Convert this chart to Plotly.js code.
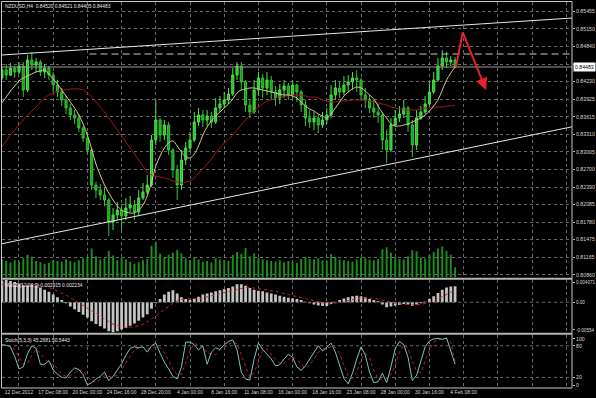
<!DOCTYPE html>
<html><head><meta charset="utf-8">
<script src="https://cdn.plot.ly/plotly-3.0.1.min.js"></script>
<style>html,body{margin:0;padding:0;background:#000;}#chart{width:596px;height:398px;}</style>
</head><body><div id="chart"></div>
<script>
// ---- H4 bars (every other bar shown), bar index of first candle = -8, step 2 ----
const firstBarIndex = -8;
const barStep = 2;
const openP = [.84291,.84431,.84344,.84465,.84396,.84500,.84082,.84605,.84518,.84570,
.84396,.84465,.84344,.84169,.84047,.83908,.83769,.83647,.83594,.83420,
.83246,.83037,.82427,.82340,.82253,.82166,.81783,.81905,.81992,.81887,
.82027,.82079,.81957,.82201,.82305,.82427,.83211,.83560,.83298,.83473,
.83037,.82689,.82427,.82863,.83072,.83211,.83525,.83647,.83560,.83629,
.83525,.83769,.83838,.83908,.84013,.84344,.84500,.84222,.83821,.83699,
.84082,.84291,.84117,.84256,.84047,.83943,.84082,.84152,.83995,.84169,
.84047,.83821,.83594,.83525,.83594,.83473,.83560,.83647,.83995,.84117,
.84047,.84169,.84222,.84291,.84256,.83995,.83908,.83769,.83699,.83647,
.83211,.83037,.83473,.83594,.83664,.83769,.83473,.83124,.83594,.83699,
.83838,.84047,.84256,.84500,.84640,.84570,.84605];
const highP = [.84500,.84535,.84553,.84500,.84570,.84570,.84692,.84744,.84640,.84605,
.84535,.84500,.84396,.84256,.84117,.83978,.83838,.83734,.83664,.83455,
.83351,.83072,.82480,.82445,.82375,.82201,.82027,.82131,.82096,.82201,
.82236,.82166,.82340,.82462,.82601,.83298,.83908,.83594,.83560,.83525,
.83072,.82776,.83037,.83176,.83351,.83699,.83769,.83734,.83734,.83699,
.83943,.83978,.84047,.84117,.84465,.84570,.84570,.84256,.83908,.84256,
.84396,.84361,.84396,.84326,.84152,.84187,.84256,.84204,.84256,.84187,
.84082,.83908,.83734,.83699,.83664,.83699,.83769,.84169,.84256,.84222,
.84326,.84344,.84396,.84431,.84291,.84117,.83995,.83908,.83838,.83699,
.83385,.83594,.83734,.83804,.83908,.83804,.83560,.83734,.83804,.83978,
.84222,.84396,.84640,.84779,.84744,.84674,.84657];
const lowP = [.84256,.84256,.84326,.84291,.84361,.83960,.84047,.84431,.84396,.84326,
.84291,.84256,.84047,.83960,.83804,.83664,.83560,.83490,.83351,.83176,
.82967,.82340,.82201,.82166,.82061,.81539,.81643,.81818,.81643,.81818,
.81957,.81818,.81905,.82166,.82253,.82392,.83124,.83176,.83211,.82950,
.82549,.82166,.82340,.82776,.83002,.83176,.83455,.83438,.83455,.83420,
.83490,.83699,.83769,.83838,.83978,.84256,.84082,.83699,.83594,.83664,
.83978,.83943,.83995,.83908,.83804,.83838,.83943,.83908,.83943,.83873,
.83699,.83455,.83420,.83385,.83333,.83420,.83490,.83594,.83908,.83943,
.83995,.84047,.84082,.84047,.83908,.83769,.83682,.83594,.83507,.83037,
.82811,.83002,.83438,.83525,.83594,.83351,.82915,.83037,.83560,.83664,
.83804,.84013,.84222,.84431,.84465,.84500,.84465];
const closeP = [.84431,.84344,.84465,.84396,.84500,.84082,.84605,.84518,.84570,.84396,
.84465,.84344,.84169,.84047,.83908,.83769,.83647,.83594,.83420,.83246,
.83037,.82427,.82340,.82253,.82166,.81783,.81905,.81992,.81887,.82027,
.82079,.81957,.82201,.82305,.82427,.83211,.83560,.83298,.83473,.83037,
.82689,.82427,.82863,.83072,.83211,.83525,.83647,.83560,.83629,.83525,
.83769,.83838,.83908,.84013,.84344,.84500,.84222,.83821,.83699,.84082,
.84291,.84117,.84256,.84047,.83943,.84082,.84152,.83995,.84169,.84047,
.83821,.83594,.83525,.83594,.83473,.83560,.83647,.83995,.84117,.84047,
.84169,.84222,.84291,.84256,.83995,.83908,.83769,.83699,.83647,.83211,
.83037,.83473,.83594,.83664,.83769,.83473,.83124,.83594,.83699,.83838,
.84047,.84256,.84500,.84640,.84570,.84605,.84483];
const maFast = [.83856,.83960,.84065,.84152,.84239,.84291,.84326,.84361,.84396,.84413,
.84431,.84361,.84274,.84187,.84082,.83978,.83873,.83769,.83647,.83490,
.83298,.83054,.82793,.82601,.82427,.82288,.82166,.82061,.81992,.81957,
.81940,.81940,.81992,.82079,.82236,.82480,.82758,.82932,.83072,.83159,
.83194,.83107,.83002,.82915,.82898,.82967,.83107,.83298,.83438,.83542,
.83629,.83699,.83769,.83838,.83925,.84030,.84082,.84100,.84117,.84117,
.84100,.84082,.84065,.84047,.84030,.84013,.83995,.83995,.83978,.83943,
.83873,.83804,.83751,.83716,.83664,.83629,.83594,.83664,.83769,.83873,
.83978,.84047,.84100,.84134,.84117,.84065,.83995,.83925,.83804,.83682,
.83594,.83490,.83455,.83455,.83473,.83490,.83525,.83560,.83594,.83647,
.83716,.83804,.83908,.84082,.84256,.84378,.84483];
const maSlow = [.83089,.83194,.83298,.83385,.83473,.83560,.83647,.83716,.83786,.83873,
.83943,.83995,.84030,.84065,.84082,.84082,.84100,.84100,.84100,.84082,
.84030,.83960,.83873,.83786,.83699,.83594,.83490,.83385,.83281,.83176,
.83072,.82967,.82863,.82758,.82654,.82601,.82584,.82567,.82549,.82532,
.82497,.82480,.82462,.82480,.82497,.82549,.82636,.82706,.82793,.82880,
.82985,.83072,.83159,.83229,.83298,.83385,.83473,.83560,.83647,.83716,
.83786,.83838,.83891,.83908,.83943,.83960,.83978,.83978,.83995,.83995,
.83995,.83978,.83960,.83960,.83943,.83908,.83891,.83873,.83873,.83891,
.83891,.83891,.83908,.83908,.83908,.83908,.83891,.83873,.83856,.83838,
.83821,.83786,.83769,.83751,.83751,.83734,.83734,.83734,.83751,.83769,
.83769,.83786,.83786,.83786,.83804,.83804,.83821];
const volume = [2600,2400,2200,2500,2300,2800,3300,3000,2400,2200,
2000,2100,2500,2400,2300,2600,2400,2200,2500,2800,
3000,4200,3100,2600,2800,3900,3200,2500,2900,2600,
2300,2000,2200,2500,2700,4600,5200,3500,2900,3300,
3600,4000,3500,2800,2500,2900,2600,2300,2400,2200,
2800,2600,2500,2400,3300,3700,3400,4300,3100,3500,
2900,2600,2500,2400,2300,2500,2200,2400,2300,2100,
2700,3000,2700,2600,2800,2500,2400,3400,3000,2600,
2500,2400,2300,2600,2900,2800,2600,2500,2700,4100,
4400,3600,2900,2700,2600,3100,4000,3800,2900,2800,
3300,3700,4200,4500,3900,3300,1500];
const macdMain = [0.0040,0.00407,0.0039,0.0037,0.0034,0.0031,0.0031,0.0032,0.0030,0.0027,
0.0023,0.0019,0.0014,0.0009,0.0004,-0.0002,-0.0008,-0.0013,-0.0018,-0.0023,
-0.0028,-0.0035,-0.0040,-0.0044,-0.0048,-0.0053,-0.00554,-0.0053,-0.0050,-0.0047,
-0.0043,-0.0039,-0.0034,-0.0028,-0.0022,-0.0012,-0.0002,0.0006,0.0014,0.0019,
0.0022,0.0016,0.0009,0.0006,0.0004,0.0006,0.0010,0.0014,0.0016,0.0018,
0.0020,0.0022,0.0024,0.0026,0.0029,0.0033,0.0033,0.0030,0.0026,0.0023,
0.0021,0.0020,0.0018,0.0016,0.0014,0.0012,0.0010,0.0008,0.0007,0.0006,
0.0004,0.0001,-0.0002,-0.0004,-0.0006,-0.0007,-0.0007,-0.0003,0.0001,0.0004,
0.0007,0.0009,0.0011,0.0012,0.0011,0.0009,0.0006,0.0004,0.0002,-0.0004,
-0.0009,-0.0008,-0.0006,-0.0005,-0.0003,-0.0004,-0.0007,-0.0004,-0.0002,0.0001,
0.0006,0.0011,0.0017,0.0023,0.0027,0.0029,0.002915];
const macdSignal = [0.0033,0.0033,0.0033,0.0034,0.0034,0.0033,0.0033,0.0033,0.0032,0.0031,
0.0029,0.0027,0.0024,0.0021,0.0017,0.0013,0.0009,0.0004,-0.0001,-0.0006,
-0.0011,-0.0016,-0.0021,-0.0026,-0.0031,-0.0036,-0.0040,-0.0043,-0.0045,-0.0046,
-0.0046,-0.0045,-0.0043,-0.0040,-0.0036,-0.0031,-0.0025,-0.0019,-0.0013,-0.0007,
-0.0002,0.0002,0.0005,0.0006,0.0006,0.0006,0.0007,0.0008,0.0010,0.0012,
0.0014,0.0016,0.0018,0.0020,0.0022,0.0024,0.0026,0.0027,0.0027,0.0026,
0.0025,0.0024,0.0023,0.0022,0.0020,0.0018,0.0016,0.0014,0.0012,0.0010,
0.0008,0.0006,0.0004,0.0002,0.0000,-0.0002,-0.0003,-0.0003,-0.0002,-0.0001,
0.0001,0.0003,0.0005,0.0007,0.0008,0.0008,0.0008,0.0007,0.0006,0.0004,
0.0001,-0.0001,-0.0002,-0.0003,-0.0004,-0.0004,-0.0005,-0.0005,-0.0004,-0.0003,
-0.0001,0.0002,0.0006,0.0010,0.0014,0.0018,0.002234];
const stochMain = [82,81,78,60,36,40,65,80,75,45,
45,52,34,26,20,19,30,38,35,25,
6,10,17,22,30,14,22,35,46,62,
75,78,76,78,68,80,85,66,49,36,
22,17,40,87,87,82,72,80,45,68,
76,73,82,88,91,72,30,17,15,55,
85,73,64,55,42,44,55,64,58,40,
33,42,55,68,80,70,78,85,68,42,
18,8,28,55,78,62,30,10,12,28,
10,40,75,88,82,58,14,24,50,78,
89,93,94,92,95,70,45.27];
const stochSignal = [80,81,80,73,58,45,47,62,73,67,
55,47,44,37,27,22,23,29,34,33,
22,14,11,16,23,22,22,24,34,48,
61,72,76,77,74,75,78,77,67,50,
36,25,26,48,71,85,80,78,66,64,
63,72,77,81,87,84,64,40,21,29,
52,71,74,64,54,47,47,54,59,54,
44,38,43,55,68,73,76,78,77,65,
43,23,18,30,54,65,57,34,17,17,
17,26,42,68,82,76,51,32,29,51,
72,87,92,93,94,86,50.54];

// axis labels
const timeTickIndex = [0,16,32,48,64,80,96,112,128,144,160,176,192,208,224,240,256];
const timeTickText = ["12 Dec 2012","17 Dec 08:00","20 Dec 00:00","24 Dec 16:00","28 Dec 20:00","4 Jan 00:00","8 Jan 16:00","11 Jan 08:00","16 Jan 00:00","18 Jan 16:00","23 Jan 08:00","28 Jan 00:00","30 Jan 16:00","4 Feb 08:00","","",""];
const priceTicks = [0.85455,0.85150,0.84840,0.84535,0.84230,0.83925,0.83615,0.83310,0.83005,0.82700,0.82390,0.82085,0.81780,0.81475,0.81165,0.80860];
const priceTickText = ["0.85455","0.85150","0.84840","","0.84230","0.83925","0.83615","0.83310","0.83005","0.82700","0.82390","0.82085","0.81780","0.81475","0.81165","0.80860"];
const lastPrice = 0.84483;
const headerText = "NZDUSD,H4  0.84520 0.84521 0.84405 0.84483";
const macdText = "MACD(12,26,9) 0.002915 0.002234";
const stochText = "Stoch(5,3,3) 45.2681 50.5443";
const macdMax = 0.004071, macdMin = -0.00554;
const stochLevels = [80, 20];

// drawn objects (bar index, price)
const upperTrend = {x: [-7.95, 258.7], y: [0.84692, 0.85336]};
const lowerTrend = {x: [-7.95, 258.7], y: [0.81405, 0.83441]};
const resistLine = {x: [33, 258.7], y: [0.84709, 0.84709]};
const arrowUp = {x: [204.4, 207.6], y: [0.84483, 0.85087]};
const arrowDown = {x: [207.6, 218.5], y: [0.85087, 0.84082]};

const xIdx = closeP.map((_, k) => firstBarIndex + barStep * k);
const xRange = [-7.95, 258.7];

const FONT = "Liberation Sans, DejaVu Sans, sans-serif";
const TXT = '#d8d8d8';
const GRID = '#6a6a6a';
const FS = 5.2;

const traces = [
  {type:'bar', x:xIdx, y:volume, xaxis:'x3', yaxis:'y4', width:0.9, marker:{color:'#1c8e1c', line:{width:0}}, hoverinfo:'skip'},
  {type:'scatter', mode:'lines', x:xRange, y:[lastPrice,lastPrice], xaxis:'x3', yaxis:'y3', line:{color:'#9a9a9a', width:1}, hoverinfo:'skip'},
  {type:'candlestick', x:xIdx, open:openP, high:highP, low:lowP, close:closeP, xaxis:'x3', yaxis:'y3',
    increasing:{line:{color:'#4ce24c', width:1}, fillcolor:'#2fbf2f'},
    decreasing:{line:{color:'#33c433', width:1}, fillcolor:'#229a22'}, whiskerwidth:0, hoverinfo:'skip'},
  {type:'scatter', mode:'lines', x:xIdx, y:maSlow, xaxis:'x3', yaxis:'y3', line:{color:'#a01818', width:1, shape:'spline'}, hoverinfo:'skip'},
  {type:'scatter', mode:'lines', x:xIdx, y:maFast, xaxis:'x3', yaxis:'y3', line:{color:'#d6c48e', width:1, shape:'spline'}, hoverinfo:'skip'},
  {type:'scatter', mode:'lines', x:upperTrend.x, y:upperTrend.y, xaxis:'x3', yaxis:'y3', line:{color:'#e6e6e6', width:1}, hoverinfo:'skip'},
  {type:'scatter', mode:'lines', x:lowerTrend.x, y:lowerTrend.y, xaxis:'x3', yaxis:'y3', line:{color:'#e6e6e6', width:1}, hoverinfo:'skip'},
  {type:'scatter', mode:'lines', x:resistLine.x, y:resistLine.y, xaxis:'x3', yaxis:'y3', line:{color:'#c8c8c8', width:1, dash:'7px,4px'}, hoverinfo:'skip'},
  {type:'scatter', mode:'lines', x:arrowUp.x, y:arrowUp.y, xaxis:'x3', yaxis:'y3', line:{color:'#e8202a', width:2}, hoverinfo:'skip'},
  {type:'bar', x:xIdx, y:macdMain, xaxis:'x2', yaxis:'y2', width:1.3, marker:{color:'#c4c4c4', line:{width:0}}, hoverinfo:'skip'},
  {type:'scatter', mode:'lines', x:xIdx, y:macdSignal, xaxis:'x2', yaxis:'y2', line:{color:'#d02020', width:1, dash:'dot'}, hoverinfo:'skip'},
  {type:'scatter', mode:'lines', x:xIdx, y:stochSignal, xaxis:'x', yaxis:'y', line:{color:'#c81e1e', width:1, dash:'dot'}, hoverinfo:'skip'},
  {type:'scatter', mode:'lines', x:xIdx, y:stochMain, xaxis:'x', yaxis:'y', line:{color:'#7cc4bc', width:1}, hoverinfo:'skip'}
];

const xCommon = {range:xRange, tickvals:timeTickIndex, showgrid:true, gridcolor:GRID, griddash:'dot', gridwidth:1,
  zeroline:false, showline:false, ticks:'', fixedrange:true, rangeslider:{visible:false}};
const py = p => (388 - p) / 386;   // pixel row -> paper
const px = p => (p - 2) / 570;
const yTickCommon = {side:'right', showgrid:false, zeroline:false, showline:false, ticks:'outside', ticklen:2, tickcolor:'#bbb',
  tickfont:{size:FS, color:TXT, family:FONT}, fixedrange:true};

const layout = {
  width:596, height:398, margin:{l:2, r:24, t:2, b:10},
  paper_bgcolor:'#000', plot_bgcolor:'#000', showlegend:false, hovermode:false,
  font:{family:FONT, size:FS, color:TXT},
  xaxis: Object.assign({}, xCommon, {anchor:'y', ticktext:timeTickText, showticklabels:true, tickangle:0, automargin:false,
    tickfont:{size:5.0, color:TXT, family:FONT}}),
  xaxis2: Object.assign({}, xCommon, {anchor:'y2', matches:'x', showticklabels:false}),
  xaxis3: Object.assign({}, xCommon, {anchor:'y3', matches:'x', showticklabels:false}),
  yaxis: Object.assign({}, yTickCommon, {domain:[0, py(335.2)], range:[0,100], anchor:'x', tickvals:[93.3,80,20,5.3], ticktext:['100','80','20','0']}),
  yaxis2: Object.assign({}, yTickCommon, {domain:[py(332.5), py(280)], range:[macdMin, macdMax], anchor:'x2',
    tickvals:[0.00357, 0, -0.00508], ticktext:[String(macdMax), '0.00', String(macdMin)], tickfont:{size:4.6, color:TXT, family:FONT}}),
  yaxis3: Object.assign({}, yTickCommon, {domain:[py(277.5), 1], range:[0.80816, 0.85615], anchor:'x3', tickvals:priceTicks, ticktext:priceTickText,
    showgrid:true, gridcolor:GRID, griddash:'dot'}),
  yaxis4: {overlaying:'y3', anchor:'x3', range:[0, 40000], visible:false, fixedrange:true},
  shapes: [
    {type:'line', xref:'paper', yref:'y2', x0:0, x1:1, y0:0, y1:0, line:{color:GRID, width:1, dash:'dot'}},
    ...stochLevels.map(v => ({type:'line', xref:'paper', yref:'y', x0:0, x1:1, y0:v, y1:v, line:{color:GRID, width:1, dash:'dot'}})),
    {type:'rect', xref:'paper', yref:'paper', x0:px(1.5), x1:1, y0:0, y1:py(1.5), line:{color:'#c8c8c8', width:1}},
    {type:'line', xref:'paper', yref:'paper', x0:px(1.5), x1:1, y0:py(278.7), y1:py(278.7), line:{color:'#b4b4b4', width:2}},
    {type:'line', xref:'paper', yref:'paper', x0:px(1.5), x1:1, y0:py(333.8), y1:py(333.8), line:{color:'#b4b4b4', width:2}}
  ],
  annotations: [
    {xref:'paper', yref:'paper', x:px(3), y:py(6), xanchor:'left', yanchor:'middle', text:headerText, showarrow:false, font:{size:4.9, color:'#e8e8e8', family:FONT}},
    {xref:'paper', yref:'paper', x:px(3), y:py(285.5), xanchor:'left', yanchor:'middle', text:macdText, showarrow:false, font:{size:4.9, color:'#e8e8e8', family:FONT}},
    {xref:'paper', yref:'paper', x:px(3), y:py(340.5), xanchor:'left', yanchor:'middle', text:stochText, showarrow:false, font:{size:4.9, color:'#e8e8e8', family:FONT}},
    {xref:'paper', yref:'y3', x:1.002, y:lastPrice, xanchor:'left', yanchor:'middle', text:lastPrice.toFixed(5), showarrow:false,
      bgcolor:'#ffffff', borderpad:1, font:{size:FS, color:'#000', family:FONT}},
    {xref:'x3', yref:'y3', axref:'x3', ayref:'y3', x:arrowDown.x[1], y:arrowDown.y[1], ax:arrowDown.x[0], ay:arrowDown.y[0],
      text:'', showarrow:true, arrowhead:2, arrowsize:1.2, arrowwidth:2, arrowcolor:'#e8202a'}
  ]
};

Plotly.newPlot('chart', traces, layout, {staticPlot:true, displayModeBar:false});
</script>
</body></html>
